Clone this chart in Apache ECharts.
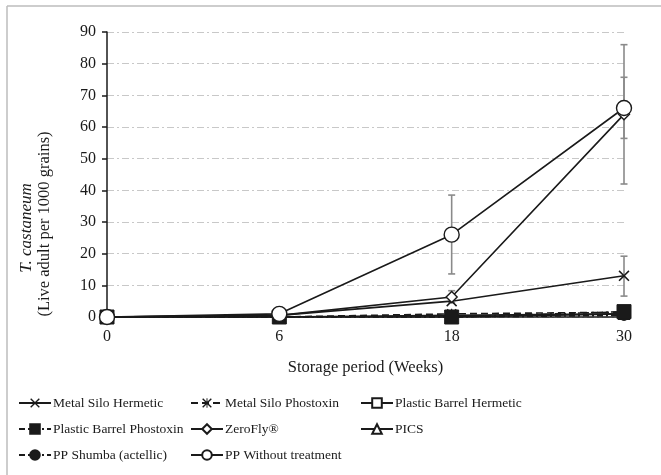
<!DOCTYPE html>
<html>
<head>
<meta charset="utf-8">
<script src="https://cdn.jsdelivr.net/npm/echarts@6/dist/echarts.min.js"></script>
<style>
  html, body { margin: 0; padding: 0; background: #fff; }
  #chart { width: 661px; height: 475px; }
</style>
</head>
<body>
<div id="chart"></div>
<script>
// Storage period (weeks)
const weeks = ['0', '6', '18', '30'];

// Live adult T. castaneum per 1000 grains, by storage treatment
const metalSiloHermetic = [0, 0.5, 5, 13];
const metalSiloPhostoxin = [0, 0, 1, 1.5];
const plasticBarrelHermetic = [0, 0, 0, 1];
const plasticBarrelPhostoxin = [0, 0, 0, 1.7];
const zeroFly = [0, 0.5, 6.3, 64];
const pics = [0, 0, 0.5, 1];
const ppShumba = [0, 0, 0, 0.5];
const ppWithout = [0, 1, 26, 66];

// Error bars: [week index, lower, upper]
const errMetalSiloHermetic = [[3, 6.6, 19.2]];
const errZeroFly = [[2, 4.5, 8.3], [3, 56.4, 75.7]];
const errPpWithout = [[2, 13.6, 38.5], [3, 42, 86]];

const yTicks = { min: 0, max: 90, interval: 10 };

const FONT = '"Liberation Serif", "Times New Roman", serif';
const INK = '#1a1a1a';

const xPath = 'path://M0,1 L1,0 L5,4 L9,0 L10,1 L6,5 L10,9 L9,10 L5,6 L1,10 L0,9 L4,5 Z';
const starPath = 'path://M0,1 L1,0 L5,4 L9,0 L10,1 L6,5 L10,9 L9,10 L5,6 L1,10 L0,9 L4,5 Z M4.5,0 L5.5,0 L5.5,10 L4.5,10 Z';

function lineSeries(name, data, opts) {
  return Object.assign({
    name: name,
    type: 'line',
    data: data,
    symbolSize: 10,
    showAllSymbol: true,
    lineStyle: { color: INK, width: 1.6 },
    itemStyle: { color: '#fff', borderColor: INK, borderWidth: 1.4 },
    emphasis: { disabled: true },
    animation: false,
    z: 3
  }, opts);
}

function errorSeries(data) {
  return {
    type: 'custom',
    data: data,
    silent: true,
    animation: false,
    z: 2,
    renderItem: function (params, api) {
      const x = api.value(0);
      const lo = api.coord([x, api.value(1)]);
      const hi = api.coord([x, api.value(2)]);
      const w = 3.5;
      const style = { stroke: '#8a8a8a', lineWidth: 1.6, fill: null };
      return {
        type: 'group',
        children: [
          { type: 'line', shape: { x1: hi[0], y1: hi[1], x2: lo[0], y2: lo[1] }, style: style },
          { type: 'line', shape: { x1: hi[0] - w, y1: hi[1], x2: hi[0] + w, y2: hi[1] }, style: style },
          { type: 'line', shape: { x1: lo[0] - w, y1: lo[1], x2: lo[0] + w, y2: lo[1] }, style: style }
        ]
      };
    }
  };
}

const legendBase = {
  orient: 'vertical',
  padding: 0,
  itemWidth: 32,
  itemHeight: 12,
  itemGap: 12,
  textStyle: { fontFamily: FONT, fontSize: 13.5, color: INK, lineHeight: 14, padding: [0, 0, 0, -3] },
  selectedMode: false
};

const chart = echarts.init(document.getElementById('chart'), null, { renderer: 'canvas' });

chart.setOption({
  backgroundColor: '#fff',
  animation: false,
  grid: { left: 107, right: 37, top: 32, bottom: 158, containLabel: false },
  xAxis: {
    type: 'category',
    data: weeks,
    boundaryGap: false,
    name: 'Storage period (Weeks)',
    nameLocation: 'middle',
    nameGap: 42,
    nameTextStyle: { fontFamily: FONT, fontSize: 16.5, color: INK },
    axisLine: { lineStyle: { color: INK, width: 1.5 } },
    axisTick: { show: false },
    axisLabel: { fontFamily: FONT, fontSize: 16, color: INK, margin: 12 },
    splitLine: { show: false }
  },
  yAxis: {
    type: 'value',
    min: yTicks.min,
    max: yTicks.max,
    interval: yTicks.interval,
    axisLine: { show: true, lineStyle: { color: INK, width: 1.5 } },
    axisTick: { show: true, length: 5, lineStyle: { color: INK, width: 1.5 } },
    axisLabel: { fontFamily: FONT, fontSize: 16, color: INK, margin: 11 },
    splitLine: { show: true, lineStyle: { color: '#c8c8c8', width: 1, type: [7, 3, 2, 3] } }
  },
  legend: [
    Object.assign({}, legendBase, {
      left: 18, top: 396,
      data: ['Metal Silo Hermetic', 'Plastic Barrel Phostoxin', 'PP Shumba (actellic)']
    }),
    Object.assign({}, legendBase, {
      left: 190, top: 396,
      data: ['Metal Silo Phostoxin', 'ZeroFly®', 'PP Without treatment']
    }),
    Object.assign({}, legendBase, {
      left: 360, top: 396,
      data: ['Plastic Barrel Hermetic', 'PICS']
    })
  ],
  graphic: [
    { type: 'line', shape: { x1: 7, y1: 6, x2: 661, y2: 6 }, style: { stroke: '#bdbdbd', lineWidth: 1.5 }, silent: true },
    { type: 'line', shape: { x1: 7, y1: 6, x2: 7, y2: 475 }, style: { stroke: '#bdbdbd', lineWidth: 1.5 }, silent: true },
    {
      type: 'text', x: 27, y: 228, rotation: Math.PI / 2, silent: true,
      style: { text: 'T. castaneum', font: 'italic 17px ' + FONT, fill: INK, align: 'center', verticalAlign: 'middle' }
    },
    {
      type: 'text', x: 45, y: 224, rotation: Math.PI / 2, silent: true,
      style: { text: '(Live adult per 1000 grains)', font: '16.5px ' + FONT, fill: INK, align: 'center', verticalAlign: 'middle' }
    }
  ],
  series: [
    errorSeries(errMetalSiloHermetic),
    errorSeries(errZeroFly),
    errorSeries(errPpWithout),
    lineSeries('Plastic Barrel Hermetic', plasticBarrelHermetic, { symbol: 'rect', symbolSize: 11 }),
    lineSeries('PICS', pics, { symbol: 'triangle', symbolSize: 10 }),
    lineSeries('PP Shumba (actellic)', ppShumba, {
      symbol: 'circle', symbolSize: 10,
      lineStyle: { color: INK, width: 1.6, type: [6, 3, 2, 3] },
      itemStyle: { color: INK, borderColor: INK, borderWidth: 1 }
    }),
    lineSeries('Metal Silo Phostoxin', metalSiloPhostoxin, {
      symbol: starPath, symbolSize: 10,
      lineStyle: { color: INK, width: 1.6, type: [7, 4] },
      itemStyle: { color: INK, borderColor: INK, borderWidth: 0 }
    }),
    lineSeries('Plastic Barrel Phostoxin', plasticBarrelPhostoxin, {
      symbol: 'rect', symbolSize: 14,
      lineStyle: { color: INK, width: 1.6, type: [6, 3, 2, 3] },
      itemStyle: { color: INK, borderColor: INK, borderWidth: 1 }
    }),
    lineSeries('Metal Silo Hermetic', metalSiloHermetic, {
      symbol: xPath, symbolSize: 11,
      itemStyle: { color: INK, borderColor: INK, borderWidth: 0 }
    }),
    lineSeries('ZeroFly®', zeroFly, { symbol: 'diamond', symbolSize: 11 }),
    lineSeries('PP Without treatment', ppWithout, { symbol: 'circle', symbolSize: 15 })
  ]
});
</script>
</body>
</html>
